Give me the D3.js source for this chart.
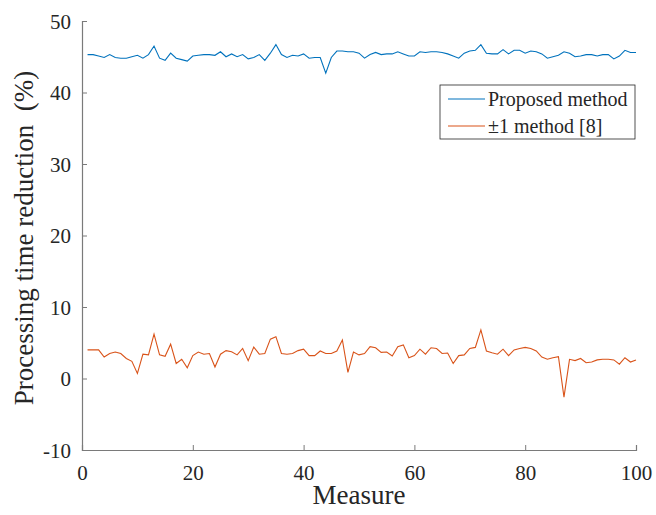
<!DOCTYPE html>
<html>
<head>
<meta charset="utf-8">
<script src="https://cdn.jsdelivr.net/npm/d3@7"></script>
<style>
  body { margin: 0; background: #fff; }
  text { font-family: "Liberation Serif", "Times New Roman", serif; fill: #262626; }
</style>
</head>
<body>
<div id="chart"></div>
<script>
var proposed = [45.3, 45.3, 45.1, 44.9, 45.3, 44.9, 44.8, 44.8, 45.0, 45.2,
    44.8, 45.3, 46.5, 44.8, 44.5, 45.5, 44.8, 44.6, 44.4, 45.1,
    45.2, 45.3, 45.3, 45.2, 45.7, 45.0, 45.4, 45.0, 45.3, 44.7,
    44.9, 45.3, 44.5, 45.5, 46.7, 45.3, 44.9, 45.2, 45.1, 45.4,
    44.8, 44.9, 44.9, 42.7, 44.9, 45.8, 45.8, 45.7, 45.7, 45.5,
    44.8, 45.3, 45.6, 45.3, 45.4, 45.4, 45.7, 45.4, 45.1, 45.1,
    45.7, 45.6, 45.7, 45.7, 45.6, 45.4, 45.1, 44.8, 45.5, 45.8,
    45.9, 46.7, 45.5, 45.4, 45.4, 46.0, 45.4, 45.9, 45.9, 45.5,
    45.8, 45.7, 45.4, 44.8, 45.0, 45.2, 45.7, 45.5, 45.0, 45.1,
    45.3, 45.3, 45.1, 45.3, 45.3, 44.7, 45.1, 45.9, 45.6, 45.6];

var pm1 = [4.0, 4.0, 4.0, 3.0, 3.5, 3.7, 3.5, 2.8, 2.4, 0.7,
    3.4, 3.3, 6.2, 3.3, 3.1, 4.8, 2.1, 2.7, 1.5, 3.2,
    3.7, 3.4, 3.5, 1.6, 3.4, 3.9, 3.75, 3.3, 4.2, 2.5,
    4.4, 3.4, 3.5, 5.5, 5.85, 3.5, 3.4, 3.5, 3.9, 4.1,
    3.2, 3.2, 3.85, 3.5, 3.5, 3.85, 5.4, 0.86, 3.7, 3.3,
    3.5, 4.45, 4.3, 3.66, 3.7, 3.15, 4.45, 4.7, 2.9, 3.2,
    4.1, 3.4, 4.3, 4.2, 3.5, 3.57, 2.1, 3.2, 3.3, 4.2,
    4.35, 6.8, 3.85, 3.6, 3.4, 4.1, 3.2, 4.0, 4.2, 4.35,
    4.2, 3.85, 3.0, 2.7, 2.9, 3.05, -2.6, 2.68, 2.5, 2.8,
    2.2, 2.3, 2.6, 2.7, 2.7, 2.6, 2.0, 2.9, 2.3, 2.6];

var seriesNames = ["Proposed method", "\u00b11 method [8]"];
var seriesColors = ["#0072BD", "#D95319"];
var xTicks = [0, 20, 40, 60, 80, 100];
var yTicks = [-10, 0, 10, 20, 30, 40, 50];

var width = 656, height = 515;
var margin = {top: 21, right: 20, bottom: 65, left: 82};

var svg = d3.select("#chart").append("svg")
    .attr("width", width)
    .attr("height", height);

var x = d3.scaleLinear().domain([0, 100]).range([margin.left, width - margin.right]);
var y = d3.scaleLinear().domain([-10, 50]).range([height - margin.bottom, margin.top]);

// axes, MATLAB style: ticks inside, no box
var fmt = function(d) { return String(d); };  // plain hyphen for -10
var xAxis = d3.axisBottom(x).tickValues(xTicks).tickFormat(fmt).tickSize(-5).tickPadding(11);
var yAxis = d3.axisLeft(y).tickValues(yTicks).tickFormat(fmt).tickSize(-5).tickPadding(11);

var gx = svg.append("g")
    .attr("transform", "translate(0," + y(-10) + ")")
    .call(xAxis);
var gy = svg.append("g")
    .attr("transform", "translate(" + x(0) + ",0)")
    .call(yAxis);

svg.selectAll(".domain").attr("stroke", "#7a7a7a").attr("stroke-width", 1.2);
svg.selectAll(".tick line").attr("stroke", "#7a7a7a");
svg.selectAll(".tick text")
    .style("font-family", "'Liberation Serif', serif")
    .style("font-size", "21px")
    .attr("fill", "#262626");
gx.selectAll(".tick text").attr("dy", "0.9em");
gy.selectAll(".tick text").attr("dy", "0.35em");

var line = d3.line()
    .x(function(d, i) { return x(i + 1); })
    .y(function(d) { return y(d); });

[proposed, pm1].forEach(function(s, i) {
    svg.append("path")
        .datum(s)
        .attr("fill", "none")
        .attr("stroke", seriesColors[i])
        .attr("stroke-width", 1.1)
        .attr("d", line);
});

// axis labels
svg.append("text")
    .attr("x", (x(0) + x(100)) / 2)
    .attr("y", 504)
    .attr("text-anchor", "middle")
    .style("font-size", "27px")
    .text("Measure");

svg.append("text")
    .attr("transform", "translate(33,238) rotate(-90)")
    .attr("text-anchor", "middle")
    .style("font-size", "27px")
    .style("white-space", "pre")
    .text("Processing time reduction  (%)");

// legend
var lg = svg.append("g").attr("transform", "translate(440,85)");
lg.append("rect")
    .attr("width", 195).attr("height", 54)
    .attr("fill", "#fff")
    .attr("stroke", "#262626")
    .attr("stroke-width", 0.8);

seriesNames.forEach(function(name, i) {
    var yy = 14 + i * 27;
    lg.append("line")
        .attr("x1", 8).attr("x2", 45)
        .attr("y1", yy).attr("y2", yy)
        .attr("stroke", seriesColors[i])
        .attr("stroke-width", 1.1);
    lg.append("text")
        .attr("x", 48).attr("y", yy)
        .attr("dy", "0.35em")
        .style("font-size", "20px")
        .text(name);
});
</script>
</body>
</html>
